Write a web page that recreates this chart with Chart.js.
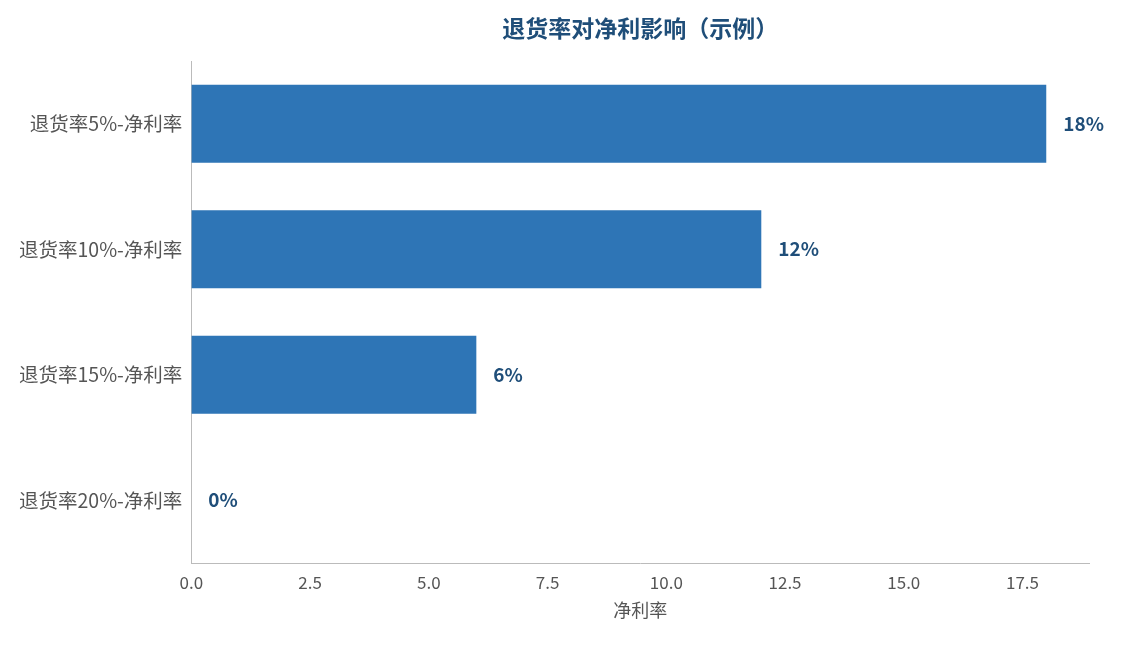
<!DOCTYPE html>
<html><head><meta charset="utf-8">
<script src="https://cdn.jsdelivr.net/npm/chart.js@4"></script>
<style>html,body{margin:0;background:#fff}#w{width:1125px;height:645px}</style>
</head><body><div id="w"><canvas id="c"></canvas></div>
<script>
const categories = ["退货率5%-净利率","退货率10%-净利率","退货率15%-净利率","退货率20%-净利率"];
const values = [18, 12, 6, 0];
const labels = ["18%","12%","6%","0%"];
const titleText = '退货率对净利影响（示例）';
const F = "'Noto Sans CJK SC','Noto Sans',sans-serif";
const labelPlugin = {
  id:'lbl',
  afterDatasetsDraw(chart){
    const ctx=chart.ctx, meta=chart.getDatasetMeta(0), a=chart.chartArea;
    ctx.save();ctx.font="bold 19px "+F;ctx.fillStyle="#1f4e79";ctx.textBaseline="middle";
    meta.data.forEach((b,i)=>{ctx.fillText(labels[i], b.x+17, b.y);});
    ctx.font="bold 23px "+F;ctx.textAlign="center";
    ctx.fillText(titleText,(a.left+a.right)/2,28);
    ctx.restore();
  }
};
new Chart(document.getElementById('c'),{
  type:'bar',
  data:{labels:categories,datasets:[{data:values,backgroundColor:'#2e75b6',categoryPercentage:0.62,barPercentage:1}]},
  options:{
    indexAxis:'y',responsive:true,maintainAspectRatio:false,animation:false,
    layout:{padding:{left:16,right:36,top:61,bottom:20}},
    plugins:{legend:{display:false},tooltip:{enabled:false}},
    scales:{
      x:{min:0,max:18.9,ticks:{stepSize:2.5,color:'#555',font:{family:F,size:17},callback:v=>v.toFixed(1)},
        afterBuildTicks:s=>{s.ticks=s.ticks.filter(t=>Math.abs(t.value/2.5-Math.round(t.value/2.5))<1e-6);},
        grid:{display:false,drawTicks:true,tickLength:6,tickColor:'#bbb'},border:{color:'#bbb'},
        title:{display:true,text:'净利率',color:'#555',font:{family:F,size:18}}},
      y:{ticks:{color:'#555',font:{family:F,size:19.5}},grid:{display:false,tickLength:6,tickColor:'#bbb'},border:{color:'#bbb'}}
    }
  },
  plugins:[labelPlugin]
});
</script></body></html>
